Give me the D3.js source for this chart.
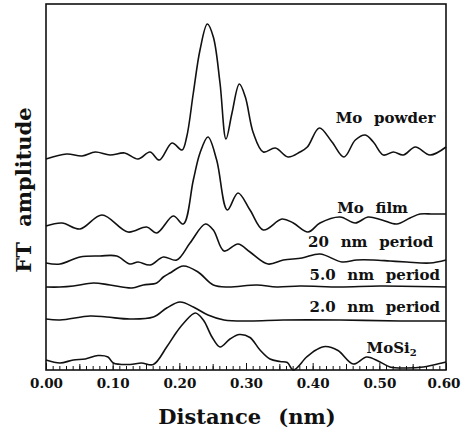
<!DOCTYPE html>
<html>
<head>
<meta charset="utf-8">
<script src="https://cdn.jsdelivr.net/npm/d3@7"></script>
<style>
  html, body { margin: 0; padding: 0; background: #fff; }
  svg { display: block; }
  text { font-family: "DejaVu Serif", "Liberation Serif", serif; font-weight: bold; fill: #111; }
</style>
</head>
<body>
<svg id="chart" width="461" height="434"></svg>
<script>
// ---------------- data (distance in nm, FT amplitude in arbitrary offset units) ----------------
const seriesNames = ["Mo powder", "Mo film", "20 nm period", "5.0 nm period", "2.0 nm period", "MoSi2"];

const moPowderX = [0.000,0.031,0.054,0.074,0.096,0.118,0.138,0.156,0.170,0.189,0.204,0.211,0.221,0.231,0.242,0.251,0.261,0.270,0.279,0.290,0.299,0.311,0.326,0.344,0.363,0.381,0.392,0.410,0.429,0.447,0.464,0.479,0.491,0.506,0.521,0.536,0.554,0.576,0.600];
const moPowderY = [21.1,21.6,21.4,21.8,21.5,21.7,21.1,21.8,21.0,22.7,22.0,23.3,27.7,32.0,34.6,33.3,28.7,23.1,25.7,28.6,27.3,23.7,21.8,22.2,21.3,21.8,22.3,24.2,22.8,21.3,23.0,23.5,22.8,21.5,21.8,21.5,22.3,21.5,22.3];

const moFilmX = [0.000,0.024,0.051,0.084,0.123,0.151,0.166,0.191,0.206,0.221,0.231,0.243,0.256,0.272,0.288,0.306,0.326,0.354,0.371,0.393,0.411,0.441,0.464,0.483,0.504,0.526,0.546,0.561,0.580,0.600];
const moFilmY = [14.4,14.7,14.1,15.5,13.8,14.3,13.7,15.4,14.6,19.0,21.7,23.3,21.0,16.0,17.7,16.0,14.0,15.1,14.7,13.8,14.7,15.3,14.7,15.3,15.0,14.6,15.2,15.6,15.6,15.6];

const p20X = [0.000,0.021,0.051,0.081,0.106,0.126,0.138,0.156,0.176,0.196,0.216,0.239,0.251,0.267,0.288,0.306,0.333,0.356,0.384,0.411,0.444,0.466,0.491,0.516,0.541,0.576,0.600];
const p20Y = [10.7,10.6,11.3,11.4,11.4,10.6,10.8,10.5,11.3,11.0,12.7,14.6,14.0,11.9,12.6,11.8,10.6,11.0,11.2,11.6,10.8,11.0,11.0,10.9,10.8,10.7,11.0];

const p50X = [0.000,0.021,0.041,0.071,0.096,0.129,0.146,0.166,0.176,0.186,0.206,0.228,0.251,0.273,0.316,0.346,0.381,0.441,0.501,0.600];
const p50Y = [8.3,8.3,8.4,8.7,8.5,8.2,8.5,8.7,9.3,9.7,10.4,9.8,8.5,8.3,8.5,8.3,8.4,8.3,8.4,8.3];

const p20nmX = [0.000,0.021,0.066,0.091,0.126,0.161,0.181,0.201,0.221,0.243,0.267,0.306,0.356,0.441,0.531,0.600];
const p20nmY = [5.1,5.0,5.4,5.3,5.1,5.3,6.2,6.8,6.3,5.5,5.0,4.9,5.0,5.0,4.9,4.9];

const moSi2X = [0.000,0.021,0.041,0.059,0.078,0.093,0.101,0.126,0.143,0.161,0.181,0.196,0.208,0.224,0.236,0.249,0.261,0.276,0.290,0.306,0.321,0.336,0.351,0.362,0.371,0.391,0.405,0.419,0.438,0.461,0.481,0.501,0.516,0.541,0.566,0.581,0.600];
const moSi2Y = [1.0,0.7,1.0,1.1,1.45,1.3,0.7,0.55,0.7,0.55,2.3,3.8,4.8,5.7,5.0,3.3,2.3,3.1,3.55,3.25,2.0,1.1,0.85,0.75,0.0,1.3,2.0,2.35,1.95,0.6,1.3,0.8,0.3,0.2,0.3,0.5,0.8];

const xTickValues = [0.00,0.10,0.20,0.30,0.40,0.50,0.60];
const xTickLabels = ["0.00","0.10","0.20","0.30","0.40","0.50","0.60"];
const xTitle = "Distance (nm)";
const yTitle = "FT amplitude";

// ---------------- chart ----------------
const svg = d3.select("#chart");
const mLeft = 46, mRight = 446, mTop = 4, mBottom = 370;

const x = d3.scaleLinear().domain([0, 0.6]).range([mLeft, mRight]);
const y = d3.scaleLinear().domain([0, 36.6]).range([mBottom, mTop]);

const series = [
  {name: seriesNames[0], xs: moPowderX, ys: moPowderY, lx: 0.584, ly: 24.7},
  {name: seriesNames[1], xs: moFilmX,   ys: moFilmY,   lx: 0.543, ly: 15.67},
  {name: seriesNames[2], xs: p20X,      ys: p20Y,      lx: 0.581, ly: 12.3},
  {name: seriesNames[3], xs: p50X,      ys: p50Y,      lx: 0.591, ly: 9.0},
  {name: seriesNames[4], xs: p20nmX,    ys: p20nmY,    lx: 0.591, ly: 5.83},
  {name: seriesNames[5], xs: moSi2X,    ys: moSi2Y,    lx: 0.556, ly: 1.67}
];

const line = d3.line()
  .x(d => x(d[0]))
  .y(d => y(d[1]))
  .curve(d3.curveCatmullRom.alpha(0.5));

svg.append("rect").attr("width", 461).attr("height", 434).attr("fill", "#fff");

const gCurves = svg.append("g");
series.forEach(s => {
  const pts = s.xs.map((v, i) => [v, s.ys[i]]);
  gCurves.append("path")
    .attr("d", line(pts))
    .attr("fill", "none")
    .attr("stroke", "#111")
    .attr("stroke-width", 1.6)
    .attr("stroke-linejoin", "round");
});

// frame
svg.append("rect")
  .attr("x", mLeft).attr("y", mTop)
  .attr("width", mRight - mLeft).attr("height", mBottom - mTop)
  .attr("fill", "none").attr("stroke", "#111").attr("stroke-width", 1.6);

// minor ticks
const minorTicks = d3.range(0, 61).map(i => i / 100);
const gMinor = svg.append("g").attr("transform", `translate(0,${mBottom})`)
  .call(d3.axisBottom(x).tickValues(minorTicks).tickSize(-4).tickFormat(""));
gMinor.select(".domain").remove();
gMinor.selectAll("line").attr("stroke", "#111").attr("stroke-width", 1);

const gMid = svg.append("g").attr("transform", `translate(0,${mBottom})`)
  .call(d3.axisBottom(x).tickValues([0.05,0.15,0.25,0.35,0.45,0.55]).tickSize(-6).tickFormat(""));
gMid.select(".domain").remove();
gMid.selectAll("line").attr("stroke", "#111").attr("stroke-width", 1);

const gMajor = svg.append("g").attr("transform", `translate(0,${mBottom})`)
  .call(d3.axisBottom(x).tickValues(xTickValues).tickSize(-7).tickPadding(8)
    .tickFormat((d, i) => xTickLabels[i]));
gMajor.select(".domain").remove();
gMajor.selectAll("line").attr("stroke", "#111").attr("stroke-width", 1);
gMajor.selectAll("text")
  .attr("font-family", "DejaVu Serif")
  .attr("font-weight", "bold")
  .attr("font-size", 13.5)
  .attr("fill", "#111");
// keep the last label inside the window
gMajor.selectAll("text").filter((d, i, n) => i === n.length - 1).attr("dx", -2.5);

// axis titles
svg.append("text")
  .attr("x", (mLeft + mRight) / 2 + 1).attr("y", 424)
  .attr("text-anchor", "middle")
  .attr("font-size", 21)
  .attr("word-spacing", 10)
  .text(xTitle);

svg.append("text")
  .attr("transform", `translate(31,${190}) rotate(-90)`)
  .attr("text-anchor", "middle")
  .attr("font-size", 21)
  .attr("word-spacing", 8)
  .text(yTitle);

// series labels
series.forEach(s => {
  const t = svg.append("text")
    .attr("x", x(s.lx)).attr("y", y(s.ly))
    .attr("text-anchor", "end")
    .attr("font-size", 15)
    .attr("word-spacing", 6.5);
  if (s.name === "MoSi2") {
    t.append("tspan").text("MoSi");
    t.append("tspan").attr("font-size", 10).attr("dy", 3).text("2");
  } else {
    t.text(s.name);
  }
});
</script>
</body>
</html>
